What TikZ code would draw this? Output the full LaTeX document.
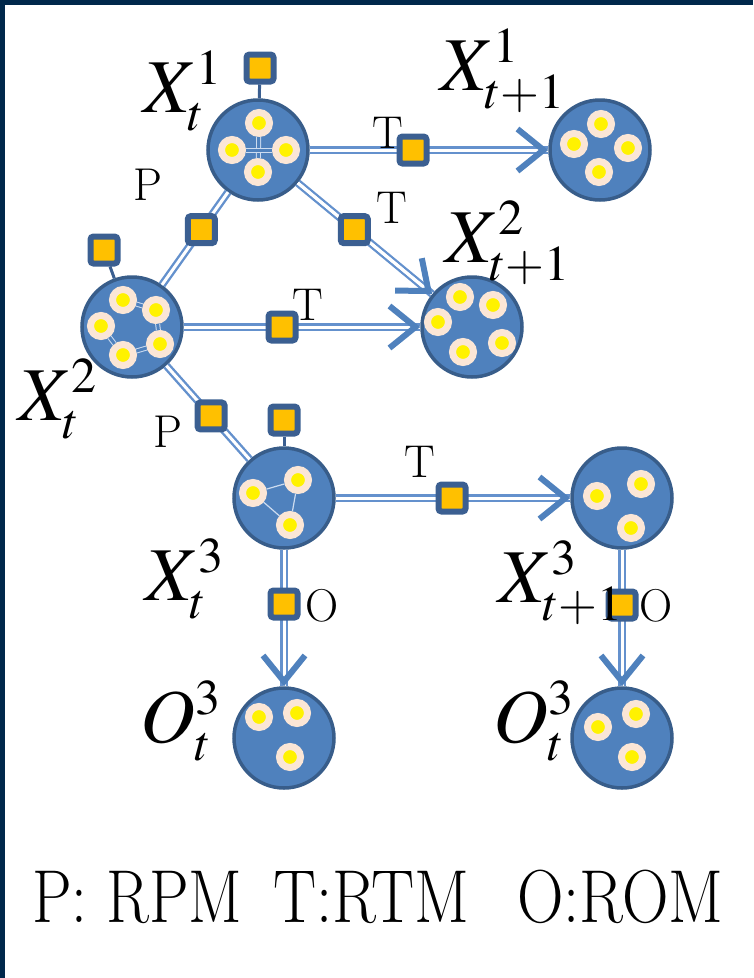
\documentclass[tikz,border=0pt]{standalone}
\usepackage{graphicx}
\usepackage{mathptmx}
\usetikzlibrary{arrows.meta,calc}
\DeclareMathSizes{76}{76}{50}{36}

\definecolor{framenavy}{RGB}{0,40,75}
\definecolor{varblue}{RGB}{79,129,189}
\definecolor{varedge}{RGB}{56,93,138}
\definecolor{linkblue}{RGB}{100,145,205}
\definecolor{tokpeach}{RGB}{251,230,214}
\definecolor{factorange}{RGB}{255,192,0}
\definecolor{factedge}{RGB}{59,95,145}
\definecolor{innerline}{RGB}{205,220,240}

\begin{document}
\begin{tikzpicture}[x=1pt, y=-1pt, line width=0.5pt]
\tikzset{
  varnode/.style={circle, draw=varedge, line width=3.5pt, fill=varblue, minimum size=100pt, inner sep=0pt},
  tokdot/.style={circle, draw=tokpeach, line width=7pt, fill=yellow, minimum size=21pt, inner sep=0pt},
  factbox/.style={draw=factedge, line width=6pt, fill=factorange, rounded corners=3pt, minimum size=27pt, inner sep=0pt},
  partlink/.style={draw=linkblue, line width=2.4pt, double=white, double distance=3pt},
  translink/.style={draw=white, line width=3pt, -{Straight Barb[length=26pt, width=42pt, line width=6pt, color=varblue]}, preaction={draw=linkblue, line width=2.4pt, double=white, double distance=3pt, -}},
  stemline/.style={draw=factedge, line width=3pt},
  inlink/.style={draw=innerline, line width=1.2pt},
  inweave/.style={draw=innerline, line width=1pt, double=varblue, double distance=3pt},
  varlbl/.style={anchor=base west, inner sep=0pt, font=\fontsize{76}{80}\selectfont},
  factlbl/.style={inner sep=0pt, font=\fontsize{46}{50}\selectfont},
  legend/.style={anchor=base west, inner sep=0pt, font=\fontsize{75}{80}\selectfont}
}
\useasboundingbox (0,0) rectangle (753,978);

\node[varnode] (x1) at (258,150) {};
\node[varnode] (y1) at (600,150) {};
\node[varnode] (x2) at (132,327) {};
\node[varnode] (y2) at (472,327) {};
\node[varnode] (x3) at (284,498) {};
\node[varnode] (y3) at (622,498) {};
\node[varnode] (o3) at (284,738) {};
\node[varnode] (p3) at (622,738) {};

\node[tokdot] (x1a) at ($(x1)+(1,-27)$) {};
\node[tokdot] (x1b) at ($(x1)+(-26,0)$) {};
\node[tokdot] (x1c) at ($(x1)+(28,0)$) {};
\node[tokdot] (x1d) at ($(x1)+(0,22)$) {};
\draw[inweave] (x1a) -- (x1d);
\draw[inweave] (x1b) -- (x1c);

\node[tokdot] (y1a) at ($(y1)+(1,-26)$) {};
\node[tokdot] (y1b) at ($(y1)+(-26,-6)$) {};
\node[tokdot] (y1c) at ($(y1)+(28,-2)$) {};
\node[tokdot] (y1d) at ($(y1)+(-1,22)$) {};

\node[tokdot] (x2a) at ($(x2)+(-9,-27)$) {};
\node[tokdot] (x2b) at ($(x2)+(24,-17)$) {};
\node[tokdot] (x2c) at ($(x2)+(-31,-1)$) {};
\node[tokdot] (x2d) at ($(x2)+(28,17)$) {};
\node[tokdot] (x2e) at ($(x2)+(-9,28)$) {};
\draw[inweave] (x2a) -- (x2b) -- (x2d) -- (x2e) -- (x2c) -- cycle;

\node[tokdot] (y2a) at ($(y2)+(-12,-30)$) {};
\node[tokdot] (y2b) at ($(y2)+(21,-22)$) {};
\node[tokdot] (y2c) at ($(y2)+(-34,-5)$) {};
\node[tokdot] (y2d) at ($(y2)+(30,16)$) {};
\node[tokdot] (y2e) at ($(y2)+(-9,25)$) {};

\node[tokdot] (x3a) at ($(x3)+(14,-18)$) {};
\node[tokdot] (x3b) at ($(x3)+(-31,-5)$) {};
\node[tokdot] (x3c) at ($(x3)+(6,27)$) {};
\draw[inlink] (x3a) -- (x3b);
\draw[inlink] (x3b) -- (x3c);
\draw[inlink] (x3c) -- (x3a);

\node[tokdot] (y3a) at ($(y3)+(-25,-2)$) {};
\node[tokdot] (y3b) at ($(y3)+(19,-14)$) {};
\node[tokdot] (y3c) at ($(y3)+(9,30)$) {};

\node[tokdot] (o3a) at ($(o3)+(-25,-21)$) {};
\node[tokdot] (o3b) at ($(o3)+(13,-25)$) {};
\node[tokdot] (o3c) at ($(o3)+(6,19)$) {};

\node[tokdot] (p3a) at ($(p3)+(-24,-11)$) {};
\node[tokdot] (p3b) at ($(p3)+(14,-24)$) {};
\node[tokdot] (p3c) at ($(p3)+(10,19)$) {};

\draw[partlink] (x1) -- (x2);
\draw[partlink] (x2) -- (x3);
\draw[translink] (x1) -- (y1);
\draw[translink] (x1) -- (y2);
\draw[translink] (x2) -- (y2);
\draw[translink] (x3) -- (y3);
\draw[translink] (x3) -- (o3);
\draw[translink] (y3) -- (p3);

\node[factbox] (fx1) at (260,68) {};
\node[factbox] (fx2) at (104,250) {};
\node[factbox] (fx3) at (284,420) {};
\node[factbox] (t11) at (413,150) {};
\node[factbox] (t12) at ($(x1)!0.45!(y2)$) {};
\node[factbox] (t22) at (282,327) {};
\node[factbox] (t33) at (452,498) {};
\node[factbox] (p12) at ($(x1)!0.45!(x2)$) {};
\node[factbox] (p23) at ($(x2)!0.52!(x3)$) {};
\node[factbox] (ox3) at (284,604) {};
\node[factbox] (oy3) at (622,605) {};

\draw[stemline] (fx1) -- (x1);
\draw[stemline] (fx2) -- (x2);
\draw[stemline] (fx3) -- (x3);

\node[varlbl] (lx1) at (143,112) {$X_t^1$};
\node[varlbl] (ly1) at (440,90) {$X_{t+1}^1$};
\node[varlbl] (ly2) at (445,262) {$X_{t+1}^2$};
\node[varlbl] (lx2) at (18,420) {$X_t^2$};
\node[varlbl] (lx3) at (145,600) {$X_t^3$};
\node[varlbl] (ly3) at (498,602) {$X_{t+1}^3$};
\node[varlbl] (lo3) at (140,742) {$O_t^3$};
\node[varlbl] (lp3) at (493,742) {$O_t^3$};

\node[factlbl] (lp1) at (148,185) {P};
\node[factlbl] (lt1) at (388,133) {T};
\node[factlbl] (lt2) at (392,208) {T};
\node[factlbl] (lt3) at (308,305) {T};
\node[factlbl] (lp2) at (168,432) {P};
\node[factlbl] (lt4) at (420,462) {T};
\node[factlbl] (lo1) at (322,606) {O};
\node[factlbl] (lo2) at (656,606) {O};

\node[legend] (leg1) at (32,922) {\scalebox{0.84}[1]{P: RPM}};
\node[legend] (leg2) at (273,922) {\scalebox{0.86}[1]{T:RTM}};
\node[legend] (leg3) at (517,922) {\scalebox{0.86}[1]{O:ROM}};

\fill[framenavy] (0,0) rectangle (5,978);
\fill[framenavy] (0,0) rectangle (753,5);
\end{tikzpicture}
\end{document}
